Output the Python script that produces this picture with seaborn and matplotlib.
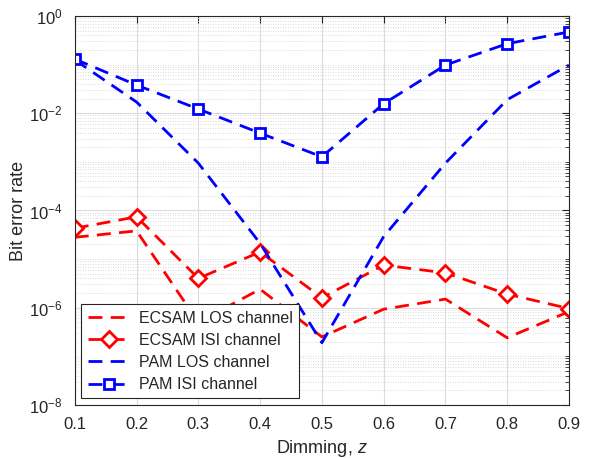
import numpy as np
import pandas as pd
import seaborn as sns
import matplotlib.pyplot as plt
from matplotlib.ticker import FixedLocator, NullFormatter

# Data
dimming = [0.1, 0.2, 0.3, 0.4, 0.5, 0.6, 0.7, 0.8, 0.9]
ecsam_los = [2.8e-5, 3.8e-5, 5.0e-7, 2.4e-6, 2.5e-7, 9.3e-7, 1.5e-6, 2.4e-7, 8.3e-7]
ecsam_isi = [4.3e-5, 7.4e-5, 4.0e-6, 1.4e-5, 1.6e-6, 7.5e-6, 5.2e-6, 1.9e-6, 9.6e-7]
pam_los = [1.25e-1, 1.7e-2, 9.4e-4, 2.1e-5, 1.9e-7, 2.9e-5, 9.4e-4, 1.9e-2, 9.8e-2]
pam_isi = [1.3e-1, 3.8e-2, 1.22e-2, 3.9e-3, 1.27e-3, 1.57e-2, 9.8e-2, 2.7e-1, 4.7e-1]

sns.set_style('white')
plt.rcParams['font.family'] = ['Liberation Sans', 'DejaVu Sans']
plt.rcParams['mathtext.fontset'] = 'custom'
plt.rcParams['mathtext.it'] = 'Liberation Sans:italic'
plt.rcParams['mathtext.rm'] = 'Liberation Sans'

fig = plt.figure(figsize=(5.89, 4.58), dpi=100)
ax = fig.add_axes([0.127, 0.116, 0.839, 0.849])

lw = 2.0
dash = (5, 3)
sns.lineplot(x=dimming, y=ecsam_los, ax=ax, color='red', lw=lw, dashes=False,
             label='ECSAM LOS channel').lines[-1].set_dashes(dash)
sns.lineplot(x=dimming, y=ecsam_isi, ax=ax, color='red', lw=lw, dashes=False,
             marker='D', markersize=8, markerfacecolor='white',
             markeredgecolor='red', markeredgewidth=2,
             label='ECSAM ISI channel').lines[-1].set_dashes(dash)
sns.lineplot(x=dimming, y=pam_los, ax=ax, color='blue', lw=lw, dashes=False,
             label='PAM LOS channel').lines[-1].set_dashes(dash)
sns.lineplot(x=dimming, y=pam_isi, ax=ax, color='blue', lw=lw, dashes=False,
             marker='s', markersize=6.5, markerfacecolor='white',
             markeredgecolor='blue', markeredgewidth=2,
             label='PAM ISI channel').lines[-1].set_dashes(dash)

ax.set_yscale('log')
ax.set_xlim(0.1, 0.9)
ax.set_ylim(1e-8, 1e0)
ax.set_xticks(dimming)
ax.set_xticklabels([f'{v:.1f}' for v in dimming])
ax.yaxis.set_major_locator(FixedLocator([1e-8, 1e-6, 1e-4, 1e-2, 1e0]))
ax.yaxis.set_major_formatter(plt.FuncFormatter(lambda v, p: f'$\\mathregular{{10^{{{int(np.log10(v))}}}}}$'))
minor = [m * 10.0 ** e for e in range(-8, 0) for m in range(1, 10)
         if not (m == 1 and e % 2 == 0)]
ax.yaxis.set_minor_locator(FixedLocator(minor))
ax.yaxis.set_minor_formatter(NullFormatter())

ax.grid(True, which='major', color='#dcdcdc', lw=0.8, ls='-')
ax.grid(True, which='minor', axis='y', color='#d0d0d0', lw=0.6, ls=(0, (1, 2)))
ax.set_axisbelow(True)

ax.tick_params(axis='both', which='both', direction='in', top=True, right=True,
               labelsize=12, colors='#262626')
ax.tick_params(axis='x', which='major', length=5, pad=9)
ax.tick_params(axis='y', which='major', length=5, pad=9)
ax.tick_params(which='minor', length=3)
for s in ax.spines.values():
    s.set_color('#262626')
    s.set_linewidth(0.8)

ax.set_xlabel('Dimming, $z$', fontsize=13, color='#262626')
ax.set_ylabel('Bit error rate', fontsize=13, color='#262626')
ax.xaxis.set_label_coords(0.5, -0.085)
ax.yaxis.set_label_coords(-0.097, 0.5)

leg = ax.legend(loc='lower left', fontsize=11.5, frameon=True, fancybox=False,
                edgecolor='#262626', framealpha=1, borderaxespad=0.4,
                handlelength=2.7, handletextpad=0.5, labelspacing=0.45,
                borderpad=0.4)
leg.get_frame().set_linewidth(0.8)

fig.savefig('out.png', dpi=100)
